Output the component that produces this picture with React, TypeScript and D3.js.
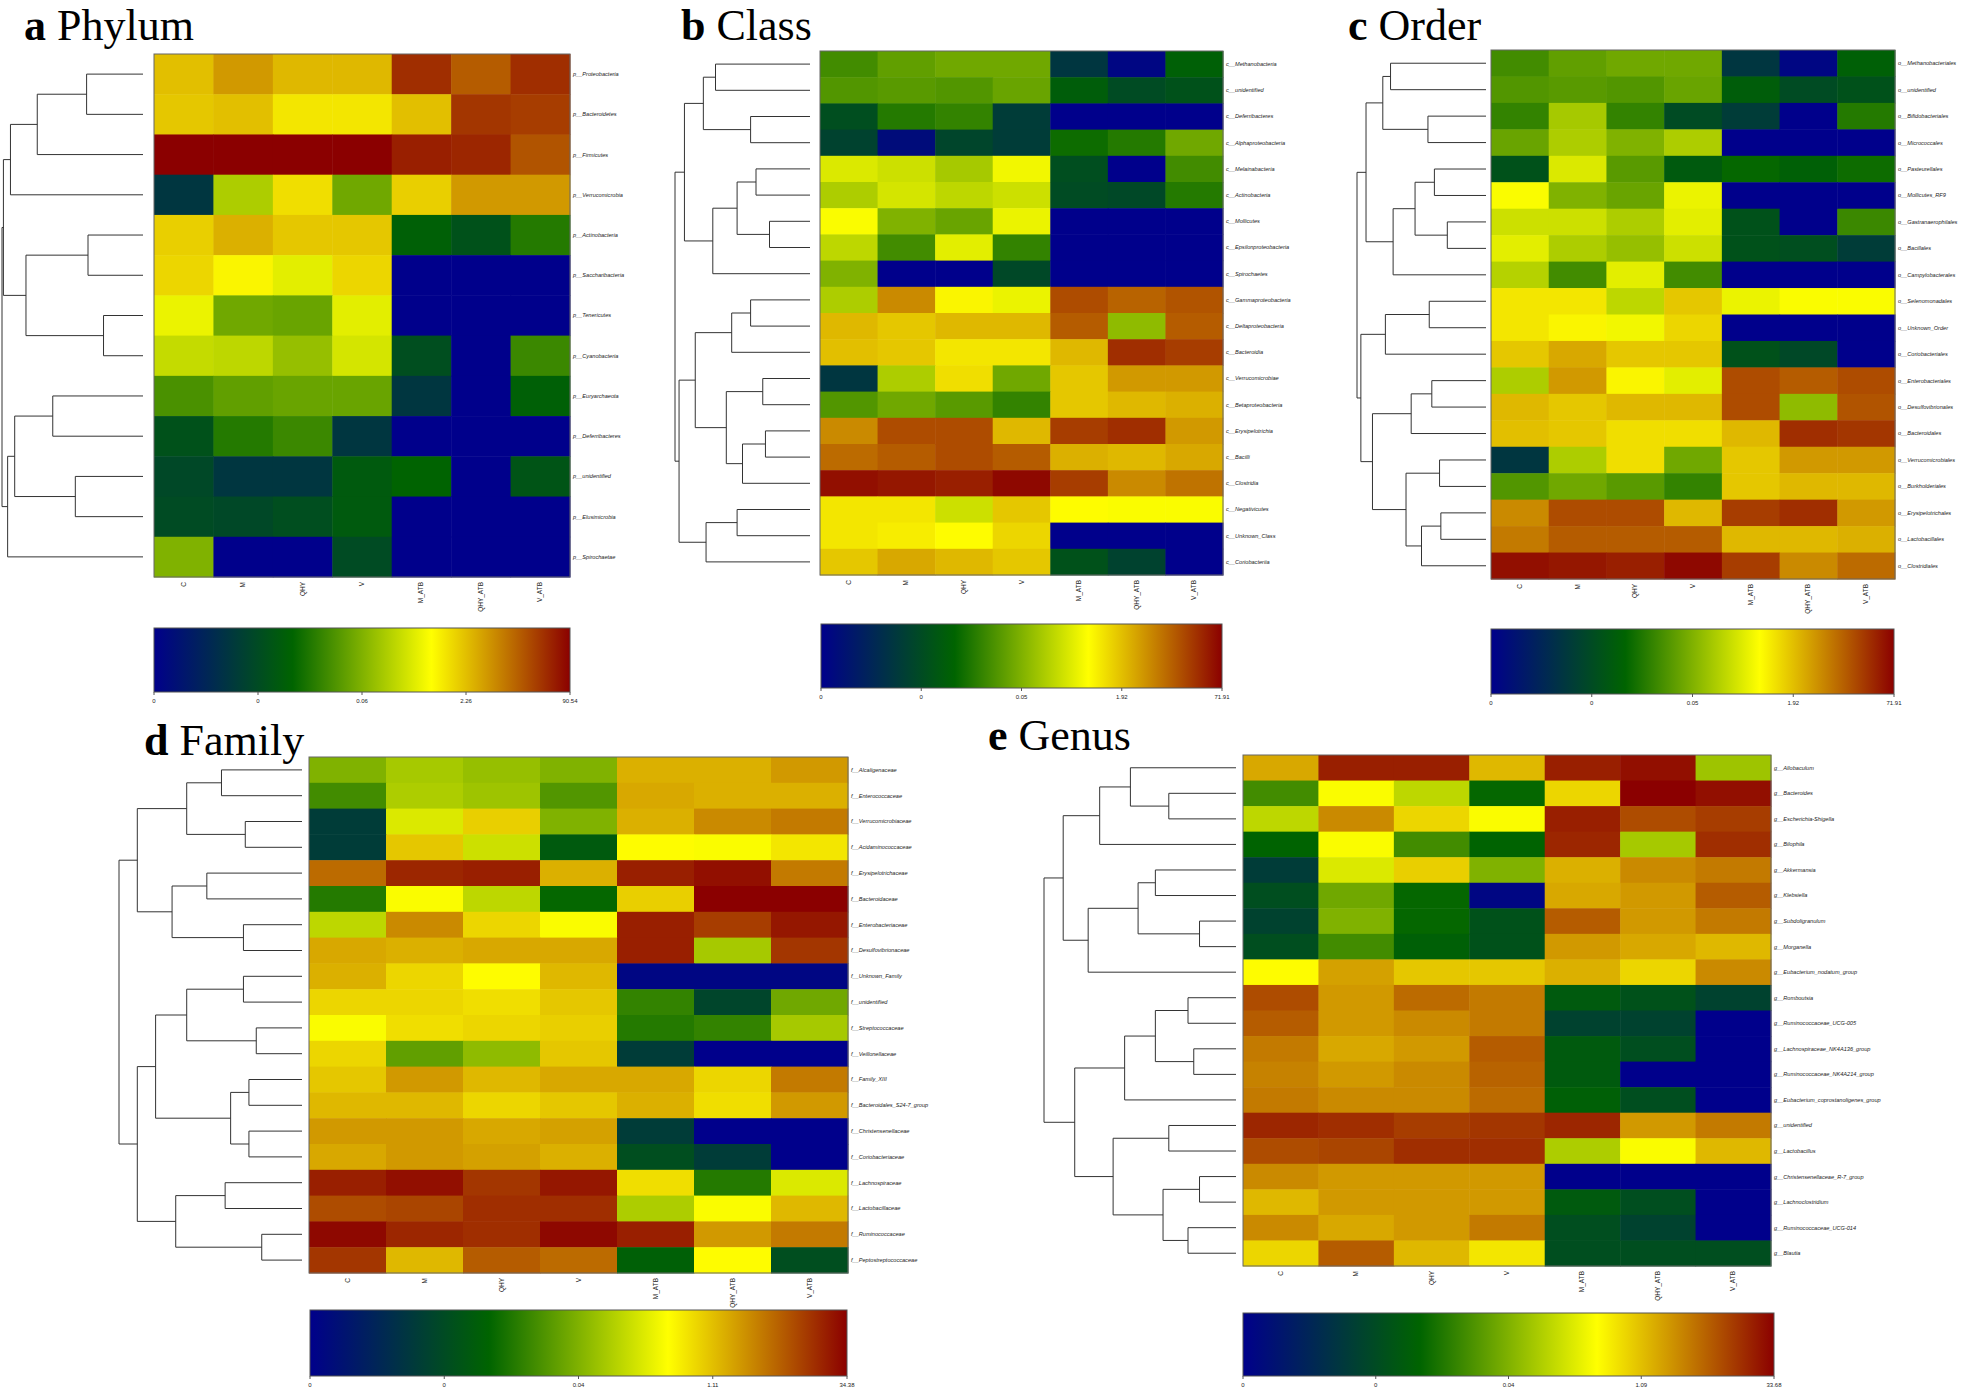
import React from "react";
import * as d3 from "d3";

// ---------- data ----------
const SAMPLES = ["C", "M", "QHY", "V", "M_ATB", "QHY_ATB", "V_ATB"];

// values are positions on the colour bar (0 = lowest, 1 = highest)
const phylumTaxa = ["p__Proteobacteria", "p__Bacteroidetes", "p__Firmicutes", "p__Verrucomicrobia", "p__Actinobacteria", "p__Saccharibacteria", "p__Tenericutes", "p__Cyanobacteria", "p__Euryarchaeota", "p__Deferribacteres", "p__unidentified", "p__Elusimicrobia", "p__Spirochaetae"];
const phylumValues = [
  [0.75, 0.8, 0.76, 0.76, 0.94, 0.88, 0.94],
  [0.74, 0.75, 0.7, 0.7, 0.75, 0.93, 0.92],
  [1.0, 1.0, 1.0, 1.0, 0.96, 0.95, 0.89],
  [0.18, 0.56, 0.71, 0.48, 0.73, 0.8, 0.8],
  [0.73, 0.77, 0.74, 0.74, 0.32, 0.27, 0.38],
  [0.72, 0.68, 0.63, 0.72, 0, 0, 0],
  [0.64, 0.48, 0.47, 0.63, 0, 0, 0],
  [0.59, 0.58, 0.53, 0.61, 0.26, 0, 0.41],
  [0.43, 0.46, 0.47, 0.47, 0.18, 0, 0.32],
  [0.27, 0.38, 0.41, 0.18, 0, 0, 0],
  [0.24, 0.18, 0.18, 0.3, 0.33, 0, 0.28],
  [0.25, 0.24, 0.26, 0.3, 0, 0, 0],
  [0.5, 0, 0, 0.25, 0, 0, 0],
];
const phylumTree = [1.0,
  [0.99, [0.94, [0.75, [0.4, 0, 1], 2], 3], [0.83, [0.39, 4, 5], [0.28, 6, 7]]],
  [0.96, [0.91, [0.64, 8, 9], [0.48, 10, 11]], 12]];
const phylumTicks = ["0", "0", "0.06", "2.26", "90.54"];

const classTaxa = ["c__Methanobacteria", "c__unidentified", "c__Deferribacteres", "c__Alphaproteobacteria", "c__Melainabacteria", "c__Actinobacteria", "c__Mollicutes", "c__Epsilonproteobacteria", "c__Spirochaetes", "c__Gammaproteobacteria", "c__Deltaproteobacteria", "c__Bacteroidia", "c__Verrucomicrobiae", "c__Betaproteobacteria", "c__Erysipelotrichia", "c__Bacilli", "c__Clostridia", "c__Negativicutes", "c__Unknown_Class", "c__Coriobacteriia"];
const classValues = [
  [0.42, 0.46, 0.48, 0.48, 0.18, 0.02, 0.32],
  [0.44, 0.45, 0.44, 0.47, 0.31, 0.25, 0.27],
  [0.26, 0.38, 0.4, 0.2, 0, 0, 0],
  [0.22, 0.04, 0.23, 0.2, 0.35, 0.38, 0.48],
  [0.62, 0.6, 0.55, 0.65, 0.26, 0, 0.42],
  [0.56, 0.61, 0.58, 0.6, 0.25, 0.24, 0.38],
  [0.66, 0.5, 0.47, 0.64, 0, 0, 0],
  [0.58, 0.42, 0.63, 0.4, 0, 0, 0],
  [0.5, 0, 0, 0.24, 0, 0, 0],
  [0.56, 0.82, 0.68, 0.64, 0.9, 0.87, 0.89],
  [0.76, 0.74, 0.76, 0.76, 0.88, 0.52, 0.88],
  [0.75, 0.74, 0.7, 0.7, 0.76, 0.94, 0.92],
  [0.18, 0.56, 0.71, 0.48, 0.74, 0.8, 0.8],
  [0.44, 0.48, 0.45, 0.4, 0.74, 0.76, 0.77],
  [0.82, 0.9, 0.9, 0.76, 0.92, 0.94, 0.8],
  [0.86, 0.88, 0.9, 0.88, 0.77, 0.76, 0.78],
  [0.98, 0.97, 0.96, 0.99, 0.92, 0.82, 0.85],
  [0.7, 0.7, 0.6, 0.74, 0.67, 0.66, 0.66],
  [0.7, 0.69, 0.67, 0.72, 0, 0, 0],
  [0.74, 0.78, 0.76, 0.74, 0.27, 0.22, 0],
];
const classTree = [1.0,
  [0.93, [0.79, [0.7, 0, 1], [0.44, 2, 3]], [0.72, [0.54, [0.4, 4, 5], [0.3, 6, 7]], 8]],
  [0.97, [0.85, [0.58, [0.44, 9, 10], 11], [0.62, [0.35, 12, 13], [0.5, [0.33, 14, 15], 16]]], [0.77, [0.54, 17, 18], 19]]];
const classTicks = ["0", "0", "0.05", "1.92", "71.91"];

const orderTaxa = ["o__Methanobacteriales", "o__unidentified", "o__Bifidobacteriales", "o__Micrococcales", "o__Pasteurellales", "o__Mollicutes_RF9", "o__Gastranaerophilales", "o__Bacillales", "o__Campylobacterales", "o__Selenomonadales", "o__Unknown_Order", "o__Coriobacteriales", "o__Enterobacteriales", "o__Desulfovibrionales", "o__Bacteroidales", "o__Verrucomicrobiales", "o__Burkholderiales", "o__Erysipelotrichales", "o__Lactobacillales", "o__Clostridiales"];
const orderValues = [
  [0.42, 0.46, 0.48, 0.48, 0.18, 0.02, 0.32],
  [0.44, 0.45, 0.44, 0.47, 0.31, 0.25, 0.27],
  [0.4, 0.55, 0.4, 0.25, 0.2, 0, 0.38],
  [0.47, 0.56, 0.5, 0.56, 0, 0, 0],
  [0.27, 0.62, 0.45, 0.3, 0.34, 0.32, 0.35],
  [0.66, 0.5, 0.47, 0.64, 0, 0, 0],
  [0.6, 0.6, 0.56, 0.63, 0.27, 0, 0.41],
  [0.63, 0.56, 0.53, 0.6, 0.27, 0.26, 0.2],
  [0.57, 0.42, 0.63, 0.42, 0, 0, 0],
  [0.7, 0.7, 0.58, 0.74, 0.64, 0.66, 0.66],
  [0.7, 0.68, 0.65, 0.72, 0, 0, 0],
  [0.74, 0.78, 0.74, 0.74, 0.27, 0.24, 0],
  [0.56, 0.8, 0.68, 0.63, 0.9, 0.88, 0.9],
  [0.76, 0.74, 0.76, 0.76, 0.9, 0.52, 0.89],
  [0.75, 0.74, 0.71, 0.71, 0.76, 0.94, 0.93],
  [0.18, 0.56, 0.71, 0.48, 0.74, 0.8, 0.8],
  [0.44, 0.48, 0.45, 0.4, 0.74, 0.76, 0.76],
  [0.82, 0.9, 0.9, 0.76, 0.92, 0.94, 0.8],
  [0.84, 0.88, 0.88, 0.88, 0.76, 0.76, 0.77],
  [0.98, 0.97, 0.96, 0.99, 0.92, 0.82, 0.86],
];
const orderTree = [1.0,
  [0.93, [0.8, [0.74, 0, 1], [0.45, 2, 3]], [0.72, [0.55, [0.4, 4, 5], [0.3, 6, 7]], 8]],
  [0.97, [0.78, [0.44, 9, 10], 11], [0.88, [0.58, [0.42, 12, 13], 14], [0.62, [0.36, 15, 16], [0.5, [0.35, 17, 18], 19]]]]];
const orderTicks = ["0", "0", "0.05", "1.92", "71.91"];

const familyTaxa = ["f__Alcaligenaceae", "f__Enterococcaceae", "f__Verrucomicrobiaceae", "f__Acidaminococcaceae", "f__Erysipelotrichaceae", "f__Bacteroidaceae", "f__Enterobacteriaceae", "f__Desulfovibrionaceae", "f__Unknown_Family", "f__unidentified", "f__Streptococcaceae", "f__Veillonellaceae", "f__Family_XIII", "f__Bacteroidales_S24-7_group", "f__Christensenellaceae", "f__Coriobacteriaceae", "f__Lachnospiraceae", "f__Lactobacillaceae", "f__Ruminococcaceae", "f__Peptostreptococcaceae"];
const familyValues = [
  [0.5, 0.55, 0.53, 0.5, 0.77, 0.77, 0.8],
  [0.42, 0.56, 0.54, 0.44, 0.78, 0.77, 0.77],
  [0.2, 0.62, 0.73, 0.5, 0.77, 0.82, 0.84],
  [0.2, 0.74, 0.6, 0.3, 0.67, 0.66, 0.7],
  [0.86, 0.95, 0.96, 0.77, 0.96, 0.98, 0.84],
  [0.38, 0.66, 0.58, 0.34, 0.73, 1.0, 1.0],
  [0.58, 0.82, 0.72, 0.66, 0.96, 0.92, 0.97],
  [0.78, 0.77, 0.78, 0.78, 0.96, 0.55, 0.93],
  [0.77, 0.72, 0.67, 0.76, 0.02, 0.02, 0.02],
  [0.72, 0.72, 0.71, 0.74, 0.4, 0.23, 0.48],
  [0.66, 0.71, 0.72, 0.73, 0.38, 0.4, 0.55],
  [0.72, 0.46, 0.52, 0.74, 0.2, 0, 0],
  [0.74, 0.8, 0.76, 0.78, 0.78, 0.72, 0.84],
  [0.76, 0.76, 0.72, 0.74, 0.77, 0.71, 0.8],
  [0.8, 0.8, 0.78, 0.79, 0.2, 0, 0],
  [0.78, 0.8, 0.79, 0.77, 0.26, 0.2, 0],
  [0.96, 0.98, 0.93, 0.97, 0.71, 0.38, 0.62],
  [0.9, 0.91, 0.94, 0.94, 0.56, 0.66, 0.76],
  [0.99, 0.95, 0.94, 0.99, 0.96, 0.8, 0.84],
  [0.93, 0.76, 0.88, 0.86, 0.32, 0.67, 0.26],
];
const familyTree = [1.0,
  [0.9, [0.63, [0.44, 0, 1], [0.31, 2, 3]], [0.71, [0.52, 4, 5], [0.32, 6, 7]]],
  [0.9, [0.8, [0.63, [0.32, 8, 9], [0.25, 10, 11]], [0.39, [0.29, 12, 13], [0.29, 14, 15]]], [0.69, [0.42, 16, 17], [0.22, 18, 19]]]];
const familyTicks = ["0", "0", "0.04", "1.11", "34.38"];

const genusTaxa = ["g__Allobaculum", "g__Bacteroides", "g__Escherichia-Shigella", "g__Bilophila", "g__Akkermansia", "g__Klebsiella", "g__Subdoligranulum", "g__Morganella", "g__Eubacterium_nodatum_group", "g__Romboutsia", "g__Ruminococcaceae_UCG-005", "g__Lachnospiraceae_NK4A136_group", "g__Ruminococcaceae_NK4A214_group", "g__Eubacterium_coprostanoligenes_group", "g__unidentified", "g__Lactobacillus", "g__Christensenellaceae_R-7_group", "g__Lachnoclostridium", "g__Ruminococcaceae_UCG-014", "g__Blautia"];
const genusValues = [
  [0.78, 0.96, 0.96, 0.76, 0.96, 0.98, 0.54],
  [0.42, 0.66, 0.58, 0.34, 0.72, 1.0, 0.98],
  [0.58, 0.82, 0.72, 0.66, 0.96, 0.9, 0.92],
  [0.33, 0.66, 0.42, 0.33, 0.95, 0.55, 0.94],
  [0.2, 0.62, 0.73, 0.5, 0.77, 0.82, 0.84],
  [0.26, 0.48, 0.34, 0.02, 0.78, 0.8, 0.88],
  [0.22, 0.5, 0.34, 0.27, 0.88, 0.8, 0.84],
  [0.26, 0.42, 0.32, 0.27, 0.8, 0.78, 0.76],
  [0.67, 0.79, 0.74, 0.74, 0.77, 0.72, 0.82],
  [0.9, 0.8, 0.86, 0.84, 0.3, 0.27, 0.22],
  [0.88, 0.8, 0.82, 0.84, 0.22, 0.22, 0],
  [0.84, 0.78, 0.8, 0.88, 0.3, 0.26, 0],
  [0.83, 0.8, 0.82, 0.87, 0.3, 0, 0],
  [0.84, 0.82, 0.82, 0.86, 0.32, 0.26, 0],
  [0.95, 0.94, 0.92, 0.93, 0.95, 0.8, 0.84],
  [0.9, 0.91, 0.94, 0.94, 0.56, 0.66, 0.76],
  [0.82, 0.8, 0.8, 0.8, 0, 0, 0],
  [0.76, 0.8, 0.8, 0.8, 0.3, 0.26, 0],
  [0.82, 0.78, 0.8, 0.84, 0.26, 0.22, 0],
  [0.72, 0.88, 0.76, 0.7, 0.26, 0.26, 0.26],
];
const genusTree = [1.0,
  [0.9, [0.71, [0.55, 0, [0.35, 1, 2]], 3], [0.77, [0.51, [0.42, 4, 5], [0.19, 6, 7]], 8]],
  [0.84, [0.58, [0.42, [0.25, 9, 10], [0.22, 11, 12]], 13], [0.64, [0.35, 14, 15], [0.38, [0.19, 16, 17], [0.25, 18, 19]]]]];
const genusTicks = ["0", "0", "0.04", "1.09", "33.68"];

// ---------- colour ----------
const COLOR_DOMAIN = [0, 1 / 3, 2 / 3, 1];
const COLOR_RANGE = ["#00008B", "#006400", "#FFFF00", "#8B0000"];
const color = d3.scaleLinear<string>().domain(COLOR_DOMAIN).range(COLOR_RANGE).interpolate(d3.interpolateRgb);

const LABEL_FONT = "'Liberation Sans', Arial, sans-serif";
const TITLE_FONT = "'Liberation Serif', 'Times New Roman', serif";

type Tree = number | [number, Tree, Tree];

function dendroLines(tree: Tree, yOf: (i: number) => number, xOf: (h: number) => number, leafX: number) {
  const segs: [number, number, number, number][] = [];
  const rec = (n: Tree): { x: number; y: number } => {
    if (typeof n === "number") return { x: leafX, y: yOf(n) };
    const [h, a, b] = n;
    const ca = rec(a);
    const cb = rec(b);
    const x = xOf(h);
    segs.push([ca.x, ca.y, x, ca.y]);
    segs.push([cb.x, cb.y, x, cb.y]);
    segs.push([x, ca.y, x, cb.y]);
    return { x, y: (ca.y + cb.y) / 2 };
  };
  rec(tree);
  return segs;
}

interface PanelProps {
  id: string;
  letter: string;
  name: string;
  titleX: number;
  titleY: number;
  hx: [number, number];
  hy: [number, number];
  dx: [number, number];
  cbx: [number, number];
  cby: [number, number];
  taxa: string[];
  values: number[][];
  tree: Tree;
  ticks: string[];
}

function Panel(p: PanelProps) {
  const x = d3.scaleBand<string>().domain(SAMPLES).range(p.hx);
  const y = d3.scaleBand<string>().domain(p.taxa).range(p.hy);
  const yOf = (i: number) => (y(p.taxa[i]) as number) + y.bandwidth() / 2;
  const xOf = d3.scaleLinear().domain([0, 1]).range([p.dx[1], p.dx[0]]);
  const segs = dendroLines(p.tree, yOf, xOf, p.dx[1]);
  const cb = d3.scaleLinear().domain([0, p.ticks.length - 1]).range(p.cbx);
  const gradId = `grad-${p.id}`;
  return (
    <g>
      <text x={p.titleX} y={p.titleY} fontFamily={TITLE_FONT} fontSize={44} fill="#000">
        <tspan fontWeight="bold">{p.letter}</tspan>
        <tspan> {p.name}</tspan>
      </text>
      {p.values.map((row, ri) =>
        row.map((v, ci) => (
          <rect key={`${ri}-${ci}`} x={x(SAMPLES[ci])} y={y(p.taxa[ri])} width={x.bandwidth() + 0.5} height={y.bandwidth() + 0.5} fill={color(v)} />
        ))
      )}
      <rect x={p.hx[0]} y={p.hy[0]} width={p.hx[1] - p.hx[0]} height={p.hy[1] - p.hy[0]} fill="none" stroke="#666" strokeWidth={1} />
      {segs.map((s, i) => (
        <line key={i} x1={s[0]} y1={s[1]} x2={s[2]} y2={s[3]} stroke="#333" strokeWidth={1} />
      ))}
      {p.taxa.map((t, i) => (
        <text key={t} x={p.hx[1] + 3} y={yOf(i)} dy="0.35em" fontFamily={LABEL_FONT} fontStyle="italic" fontSize={5.6} fill="#222">{t}</text>
      ))}
      {SAMPLES.map((s) => (
        <text key={s} transform={`translate(${(x(s) as number) + x.bandwidth() / 2 + 2},${p.hy[1] + 5}) rotate(-90)`} textAnchor="end" fontFamily={LABEL_FONT} fontSize={6.5} fill="#222">{s}</text>
      ))}
      <defs>
        <linearGradient id={gradId} x1="0" x2="1" y1="0" y2="0">
          {COLOR_DOMAIN.map((d, i) => (
            <stop key={i} offset={d} stopColor={COLOR_RANGE[i]} />
          ))}
        </linearGradient>
      </defs>
      <rect x={p.cbx[0]} y={p.cby[0]} width={p.cbx[1] - p.cbx[0]} height={p.cby[1] - p.cby[0]} fill={`url(#${gradId})`} stroke="#555" strokeWidth={1} />
      {p.ticks.map((t, i) => (
        <g key={i}>
          <line x1={cb(i)} x2={cb(i)} y1={p.cby[1]} y2={p.cby[1] + 3} stroke="#555" />
          <text x={cb(i)} y={p.cby[1] + 11} textAnchor="middle" fontFamily={LABEL_FONT} fontSize={6} fill="#222">{t}</text>
        </g>
      ))}
    </g>
  );
}

export default function App() {
  return (
    <svg width={1961} height={1391} style={{ position: "absolute", left: 0, top: 0, background: "#fff" }}>
      <rect x={0} y={0} width={1961} height={1391} fill="#fff" />
      <Panel id="a" letter="a" name="Phylum" titleX={24} titleY={40} hx={[154, 570]} hy={[54, 577]} dx={[2, 143]} cbx={[154, 570]} cby={[628, 692]} taxa={phylumTaxa} values={phylumValues} tree={phylumTree as Tree} ticks={phylumTicks} />
      <Panel id="b" letter="b" name="Class" titleX={681} titleY={40} hx={[820, 1223]} hy={[51, 575]} dx={[675, 810]} cbx={[821, 1222]} cby={[624, 688]} taxa={classTaxa} values={classValues} tree={classTree as Tree} ticks={classTicks} />
      <Panel id="c" letter="c" name="Order" titleX={1348} titleY={40} hx={[1491, 1895]} hy={[50, 579]} dx={[1357, 1486]} cbx={[1491, 1894]} cby={[629, 694]} taxa={orderTaxa} values={orderValues} tree={orderTree as Tree} ticks={orderTicks} />
      <Panel id="d" letter="d" name="Family" titleX={144} titleY={755} hx={[309, 848]} hy={[757, 1273]} dx={[119, 302]} cbx={[310, 847]} cby={[1310, 1376]} taxa={familyTaxa} values={familyValues} tree={familyTree as Tree} ticks={familyTicks} />
      <Panel id="e" letter="e" name="Genus" titleX={988} titleY={750} hx={[1243, 1771]} hy={[755, 1266]} dx={[1044, 1236]} cbx={[1243, 1774]} cby={[1313, 1376]} taxa={genusTaxa} values={genusValues} tree={genusTree as Tree} ticks={genusTicks} />
    </svg>
  );
}
